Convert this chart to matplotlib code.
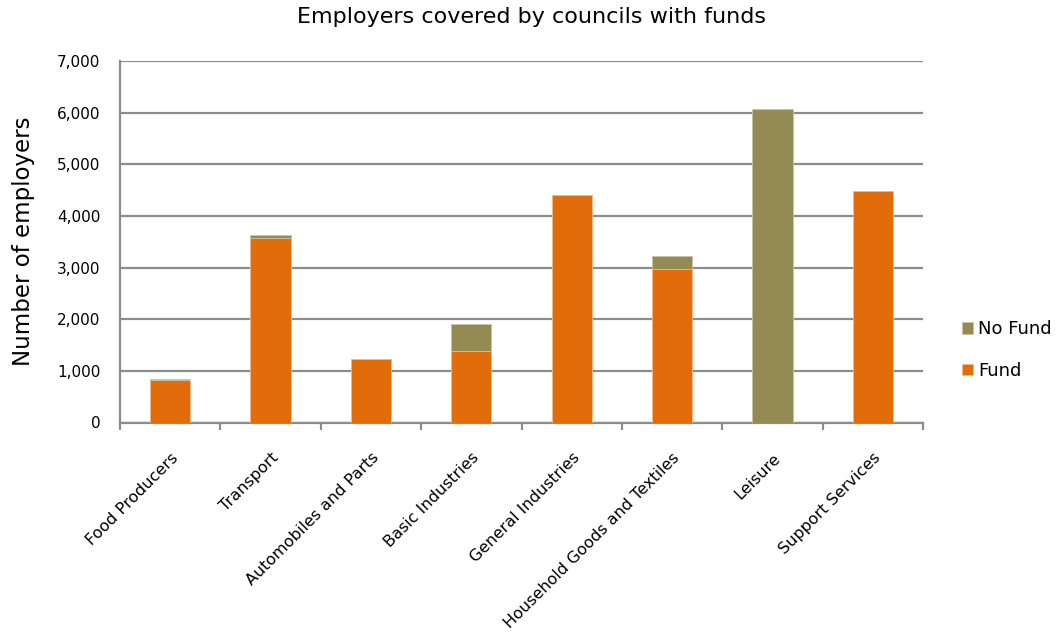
import matplotlib
matplotlib.use("Agg")
import matplotlib.pyplot as plt
import numpy as np

# ── data ─────────────────────────────────────────────────────────────────────
sectors = ["Food Producers", "Transport", "Automobiles and Parts",
           "Basic Industries", "General Industries",
           "Household Goods and Textiles", "Leisure", "Support Services"]
fund    = [820, 3575, 1225, 1375, 4400, 2975, 0, 4485]
no_fund = [30, 50, 0, 540, 0, 255, 6075, 0]

FUND_COL   = "#E36C0A"
NOFUND_COL = "#948A54"
GRID_COL   = "#8C8C8C"

plt.rcParams["font.family"] = ["DejaVu Sans"]

fig = plt.figure(figsize=(10.63, 6.36), dpi=100)
ax = fig.add_axes([120 / 1063, 1 - 422.5 / 636, 803 / 1063, 361.5 / 636])

x = np.arange(len(sectors))
ax.bar(x, fund, width=0.4, color=FUND_COL, edgecolor="#F3B98A",
       linewidth=0.6, label="Fund", zorder=3)
ax.bar(x, no_fund, width=0.4, bottom=fund, color=NOFUND_COL,
       edgecolor="#C9C3A6", linewidth=0.6, label="No Fund", zorder=3)

ax.set_xlim(-0.5, len(sectors) - 0.5)
ax.set_ylim(0, 7000)
ax.set_yticks(np.arange(0, 7001, 1000))
ax.set_yticklabels([f"{v:,}" for v in range(0, 7001, 1000)], fontsize=11)
ax.yaxis.grid(True, color=GRID_COL, linewidth=1.6, zorder=0)
ax.tick_params(axis="y", length=0, pad=14)

# category ticks sit between bars, labels at the bar centres
ax.set_xticks(np.arange(-0.5, len(sectors)), minor=False)
ax.set_xticklabels([])
ax.set_xticks(x, minor=True)
ax.set_xticklabels(sectors, minor=True, rotation=45, ha="right",
                   rotation_mode="anchor", fontsize=11.5)
ax.tick_params(axis="x", which="major", length=5, color=GRID_COL, width=1.6)
ax.tick_params(axis="x", which="minor", length=0, pad=20)

for side in ["top", "right"]:
    ax.spines[side].set_visible(False)
for side in ["left", "bottom"]:
    ax.spines[side].set_color(GRID_COL)
    ax.spines[side].set_linewidth(1.6)

ax.set_ylabel("Number of employers", fontsize=16.5, labelpad=16)
fig.text(0.5, 1 - 17 / 636, "Employers covered by councils with funds",
         ha="center", va="center", fontsize=16)

handles, labels = ax.get_legend_handles_labels()
fig.legend(handles[::-1], labels[::-1], loc="center left",
           bbox_to_anchor=(955 / 1063, 1 - 350 / 636), frameon=False,
           fontsize=13, handlelength=0.6, handleheight=0.6,
           handletextpad=0.3, labelspacing=1.3, borderaxespad=0)

plt.savefig("out.png", dpi=100)
